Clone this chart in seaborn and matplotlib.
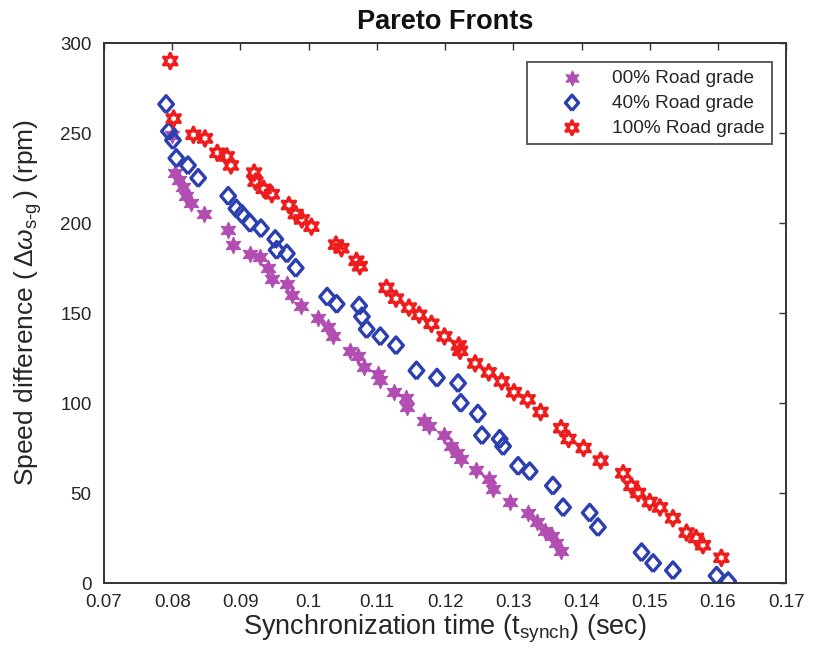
import numpy as np
import pandas as pd
import matplotlib
matplotlib.use("Agg")
import matplotlib.pyplot as plt
import seaborn as sns

# ---- data ----
x_00 = [0.0800, 0.0804, 0.0810, 0.0815, 0.0820, 0.0827, 0.0846, 0.0882, 0.0889, 0.0914,
        0.0928, 0.0941, 0.0946, 0.0968, 0.0975, 0.0988, 0.1013, 0.1028, 0.1036, 0.1060,
        0.1073, 0.1081, 0.1101, 0.1105, 0.1125, 0.1142, 0.1144, 0.1169, 0.1176, 0.1198,
        0.1208, 0.1218, 0.1223, 0.1246, 0.1264, 0.1270, 0.1295, 0.1322, 0.1334, 0.1346,
        0.1356, 0.1363, 0.1370]
y_00 = [249, 228, 224, 220, 215, 211, 205, 196, 188, 183,
        181, 175, 169, 166, 160, 154, 147, 142, 137, 129,
        126, 120, 116, 113, 106, 103, 98, 90, 87, 82,
        76, 72, 69, 63, 58, 52, 45, 39, 34, 29,
        26, 22, 18]

x_40 = [0.0791, 0.0795, 0.0801, 0.0806, 0.0823, 0.0838, 0.0882, 0.0894, 0.0902, 0.0914,
        0.0930, 0.0951, 0.0953, 0.0968, 0.0981, 0.1027, 0.1041, 0.1074, 0.1078, 0.1085,
        0.1105, 0.1128, 0.1158, 0.1188, 0.1219, 0.1223, 0.1248, 0.1254, 0.1280, 0.1285,
        0.1307, 0.1324, 0.1358, 0.1373, 0.1412, 0.1424, 0.1488, 0.1505, 0.1534, 0.1598,
        0.1615]
y_40 = [266, 251, 246, 236, 232, 225, 215, 208, 205, 200,
        197, 191, 185, 183, 175, 159, 155, 154, 148, 141,
        137, 132, 118, 114, 111, 100, 94, 82, 80, 76,
        65, 62, 54, 42, 39, 31, 17, 11, 7, 4,
        1]

x_100 = [0.0797, 0.0802, 0.0831, 0.0848, 0.0866, 0.0880, 0.0886, 0.0920, 0.0922, 0.0934,
         0.0946, 0.0971, 0.0981, 0.0990, 0.1004, 0.1040, 0.1048, 0.1070, 0.1075, 0.1114,
         0.1128, 0.1147, 0.1162, 0.1180, 0.1199, 0.1220, 0.1222, 0.1244, 0.1264, 0.1283,
         0.1301, 0.1321, 0.1340, 0.1370, 0.1381, 0.1403, 0.1428, 0.1461, 0.1473, 0.1483,
         0.1500, 0.1515, 0.1534, 0.1554, 0.1568, 0.1578, 0.1605]
y_100 = [290, 258, 249, 247, 239, 237, 232, 228, 223, 219,
         216, 210, 205, 202, 198, 188, 186, 179, 176, 164,
         158, 153, 149, 144, 137, 132, 129, 122, 117, 112,
         106, 102, 95, 86, 80, 75, 68, 61, 54, 50,
         45, 42, 36, 28, 25, 21, 14]

labels = ["00% Road grade", "40% Road grade", "100% Road grade"]
x_ticks = [0.07, 0.08, 0.09, 0.1, 0.11, 0.12, 0.13, 0.14, 0.15, 0.16, 0.17]
x_ticklabels = ["0.07", "0.08", "0.09", "0.1", "0.11", "0.12", "0.13", "0.14", "0.15", "0.16", "0.17"]
y_ticks = [0, 50, 100, 150, 200, 250, 300]

# ---- styling ----
sns.set_style("white")
plt.rcParams["font.family"] = ["Liberation Sans", "DejaVu Sans"]
plt.rcParams["mathtext.fontset"] = "custom"
plt.rcParams["mathtext.rm"] = "Liberation Sans"
plt.rcParams["mathtext.it"] = "Liberation Sans:italic"

c_purple = "#b24db2"
c_blue = "#2b3fb0"
c_red = "#ee1c1c"
c_text = "#262626"
hexstar = (6, 1, 0)
tall_diamond = [(0, -1), (0.86, 0), (0, 1), (-0.86, 0), (0, -1)]

fig = plt.figure(figsize=(8.13, 6.59), dpi=100)
ax = fig.add_axes([0.128, 0.1153, 0.839, 0.8194])

sns.scatterplot(x=x_00, y=y_00, ax=ax, marker=hexstar, s=135,
                color=c_purple, edgecolor=c_purple, linewidth=1.0, label=labels[0])
sns.scatterplot(x=x_40, y=y_40, ax=ax, marker=tall_diamond, s=150,
                facecolor="none", edgecolor=c_blue, linewidth=2.4, label=labels[1])
sns.scatterplot(x=x_100, y=y_100, ax=ax, marker=hexstar, s=120,
                facecolor="none", edgecolor=c_red, linewidth=2.4, label=labels[2])

ax.set_xlim(0.07, 0.17)
ax.set_ylim(0, 300)
ax.set_xticks(x_ticks)
ax.set_xticklabels(x_ticklabels)
ax.set_yticks(y_ticks)
ax.tick_params(direction="in", top=True, right=True, length=5, width=1,
               labelsize=13.5, colors="#333333", labelcolor=c_text)
ax.tick_params(axis="x", pad=8)
ax.tick_params(axis="y", pad=9)
for sp in ax.spines.values():
    sp.set_visible(True)
    sp.set_color("#333333")
    sp.set_linewidth(1.4)

ax.set_title("Pareto Fronts", fontsize=19.5, fontweight="bold", pad=10, color="#111111")
ax.set_xlabel(r"Synchronization time (t$_{\mathrm{synch}}$) (sec)", fontsize=19.5,
              labelpad=1, color=c_text)
ax.set_ylabel(r"Speed difference ($\,\Delta\omega_{\mathrm{s\text{-}g}}\,$) (rpm)", fontsize=19,
              color=c_text)
ax.yaxis.set_label_coords(-0.088, 0.52)

leg = ax.legend(loc="upper right", bbox_to_anchor=(0.9795, 0.965), borderaxespad=0,
                frameon=True, fancybox=False, edgecolor="#333333", fontsize=13.7,
                handlelength=3.9, handletextpad=0.15, borderpad=0.4, labelspacing=0.4,
                markerscale=0.9)
leg.get_frame().set_linewidth(1.4)
for t in leg.get_texts():
    t.set_color(c_text)

fig.savefig("out.png", dpi=100)
